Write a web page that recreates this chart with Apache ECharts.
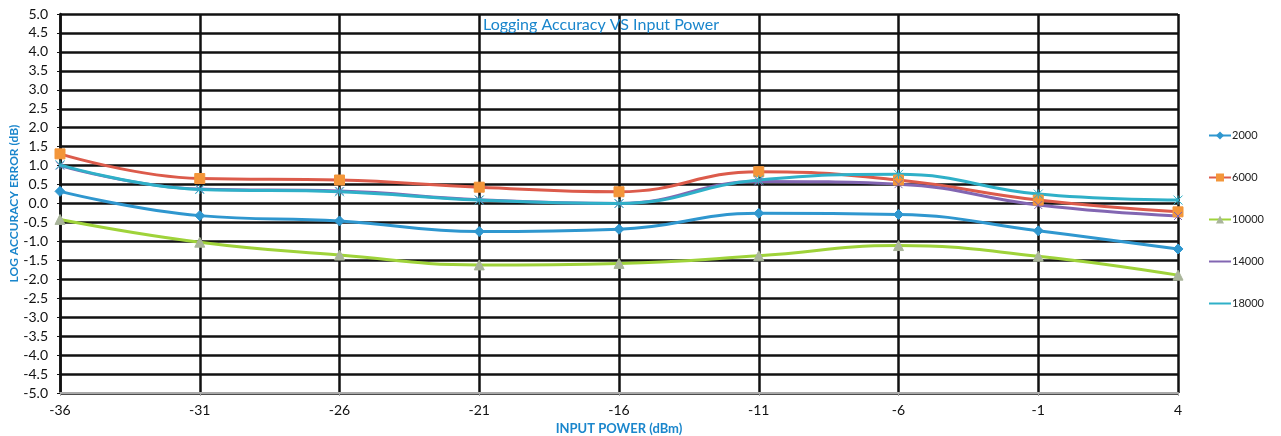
<!DOCTYPE html>
<html><head><meta charset="utf-8">
<script src="https://cdn.jsdelivr.net/npm/echarts@6/dist/echarts.min.js"></script>
<style>html,body{margin:0;padding:0;background:#fff}#c{width:1281px;height:436px}</style>
</head><body><div id="c"></div>
<script>
const categories = ['-36','-31','-26','-21','-16','-11','-6','-1','4'];
const s2000  = [0.32,-0.32,-0.46,-0.74,-0.68,-0.26,-0.29,-0.72,-1.20];
const s6000  = [1.31,0.66,0.62,0.43,0.31,0.84,0.62,0.09,-0.22];
const s10000 = [-0.42,-1.02,-1.36,-1.62,-1.58,-1.38,-1.11,-1.39,-1.89];
const s14000 = [1.00,0.38,0.33,0.10,0.00,0.58,0.51,-0.04,-0.33];
const s18000 = [1.02,0.37,0.31,0.09,0.00,0.62,0.77,0.25,0.09];
const seriesNames = ['2000','6000','10000','14000','18000'];
const FONT = 'Lato, "Open Sans", sans-serif';

function mk(name, data, lineColor, markColor, symbol, size){
  return {name, type:'line', data, smooth:0.45, symbol, symbolSize:size,
    lineStyle:{color:lineColor,width:3}, itemStyle:{color:markColor, borderColor:markColor},
    z: 3};
}
const chart = echarts.init(document.getElementById('c'));
chart.setOption({
  animation:false,
  backgroundColor:'#fff',
  title:{text:'Logging Accuracy VS Input Power', left:596, top:12, textAlign:'center',
    textStyle:{fontFamily:FONT, fontSize:16, fontWeight:'normal', color:'#1a86cc'}},
  legend:{orient:'vertical', left:1203, top:125, itemGap:31, itemWidth:22, itemHeight:10,
    data:seriesNames, textStyle:{fontFamily:FONT, fontSize:11, color:'#222', padding:[0,0,0,-4]}},
  grid:{left:60, right:103, top:14, bottom:43, outerBoundsMode:'none', containLabel:false},
  xAxis:{type:'category', data:categories, boundaryGap:false,
    name:'INPUT POWER (dBm)', nameLocation:'middle', nameGap:28,
    nameTextStyle:{fontFamily:FONT, fontSize:13, fontWeight:'bold', color:'#1a86cc'},
    axisLine:{onZero:false, lineStyle:{color:'#aaa',width:2}}, axisTick:{show:true, lineStyle:{color:'#aaa'}, length:3},
    axisLabel:{fontFamily:FONT, fontSize:14, color:'#111', margin:10},
    splitLine:{show:true, lineStyle:{color:'#111', width:2.5}}},
  yAxis:{type:'value', min:-5, max:5, interval:0.5,
    name:'LOG ACCURACY ERROR (dB)', nameLocation:'middle', nameGap:40, nameRotate:90, nameMoveOverlap:false,
    nameTextStyle:{fontFamily:FONT, fontSize:12, fontWeight:'bold', color:'#1a86cc'},
    axisLine:{show:true, lineStyle:{color:'#111', width:2.5}}, axisTick:{show:true, length:3, lineStyle:{color:'#111'}},
    axisLabel:{fontFamily:FONT, fontSize:14, color:'#111', margin:12, formatter:v=>v.toFixed(1)},
    splitLine:{show:true, lineStyle:{color:'#111', width:2.5}}},
  series:[
    mk('2000', s2000, '#2f97cf', '#2f97cf', 'diamond', 10),
    mk('6000', s6000, '#dc5b4b', '#f3963a', 'rect', 10),
    mk('10000', s10000, '#9fd33a', '#a9b59a', 'triangle', 10),
    mk('14000', s14000, '#8266b2', '#8266b2', 'path://M0,0L10,10M10,0L0,10', 8),
    mk('18000', s18000, '#2fb0c8', '#2fb0c8', 'path://M5,0L5,10M0,0L10,10M10,0L0,10', 9)
  ]
});
</script></body></html>
